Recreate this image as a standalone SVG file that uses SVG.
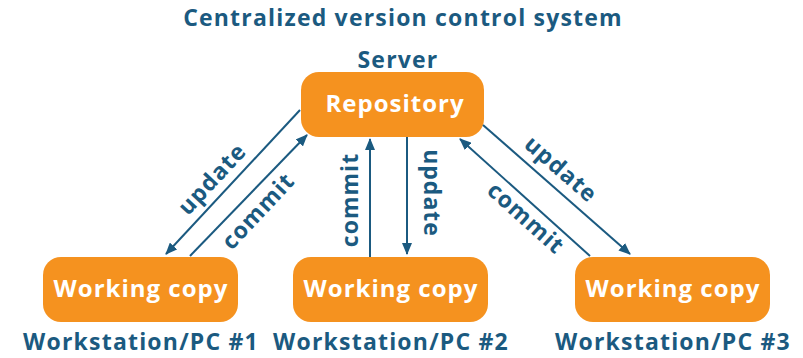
<svg xmlns="http://www.w3.org/2000/svg" width="803" height="358" viewBox="0 0 803 358">
<defs>
<style>
.box{fill:#F5921F;}
.bt{font-family:"Open Sans","Liberation Sans",sans-serif;font-weight:700;font-size:24px;letter-spacing:1px;fill:#ffffff;text-anchor:middle;}
.lab{font-family:"Open Sans","Liberation Sans",sans-serif;font-weight:700;font-size:23px;letter-spacing:1.2px;fill:#1B5A80;text-anchor:middle;}
.title{font-family:"Open Sans","Liberation Sans",sans-serif;font-weight:700;font-size:23px;letter-spacing:1.2px;fill:#1B5A80;text-anchor:middle;}
.el{font-family:"Open Sans","Liberation Sans",sans-serif;font-weight:700;font-size:23px;letter-spacing:1px;fill:#1B5A80;text-anchor:middle;}
.ln{stroke:#1B5A80;stroke-width:2;fill:none;marker-end:url(#ah);}
</style>
<marker id="ah" viewBox="0 0 12 10" refX="11" refY="5" markerWidth="12" markerHeight="10" markerUnits="userSpaceOnUse" orient="auto">
<path d="M0,0 L12,5 L0,10 Z" fill="#1B5A80"/>
</marker>
</defs>
<rect width="803" height="358" fill="#ffffff"/>
<text class="title" x="403" y="26">Centralized version control system</text>
<g id="repo">
<text class="lab" x="398" y="68">Server</text>
<rect class="box" x="301" y="72" width="183" height="65" rx="18"/>
<text class="bt" x="395" y="112">Repository</text>
</g>
<g id="wc1">
<rect class="box" x="43" y="257" width="195" height="65" rx="18"/>
<text class="bt" x="141" y="297">Working copy</text>
<text class="lab" x="141" y="350">Workstation/PC #1</text>
</g>
<g id="wc2">
<rect class="box" x="293" y="257" width="195" height="65" rx="18"/>
<text class="bt" x="391" y="297">Working copy</text>
<text class="lab" x="391" y="350">Workstation/PC #2</text>
</g>
<g id="wc3">
<rect class="box" x="575" y="257" width="195" height="65" rx="18"/>
<text class="bt" x="673" y="297">Working copy</text>
<text class="lab" x="673" y="350">Workstation/PC #3</text>
</g>
<g id="connectors">
<line class="ln" x1="300" y1="110" x2="166" y2="254"/>
<line class="ln" x1="190" y1="256" x2="307" y2="135"/>
<line class="ln" x1="370" y1="257" x2="370" y2="139"/>
<line class="ln" x1="407" y1="137" x2="407" y2="254"/>
<line class="ln" x1="590" y1="256" x2="460" y2="139"/>
<line class="ln" x1="483" y1="125" x2="630" y2="254"/>
<text class="el" transform="translate(212,179) rotate(-47)" y="8">update</text>
<text class="el" transform="translate(258,211) rotate(-47)" y="8">commit</text>
<text class="el" transform="translate(350,200) rotate(-90)" y="8">commit</text>
<text class="el" transform="translate(432,193) rotate(90)" y="8">update</text>
<text class="el" transform="translate(561,169) rotate(41)" y="8">update</text>
<text class="el" transform="translate(526,218) rotate(42)" y="8">commit</text>
</g>
</svg>
